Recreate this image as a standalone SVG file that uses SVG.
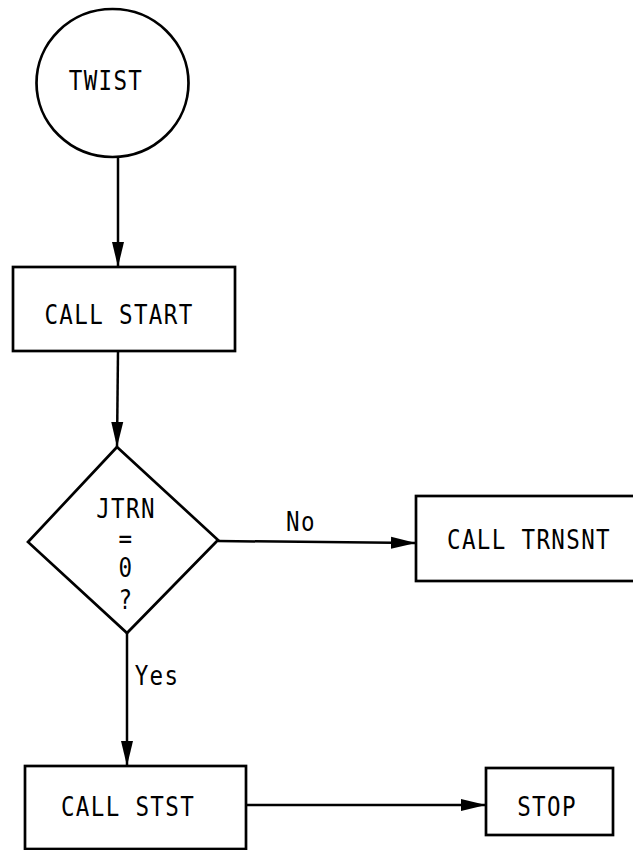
<svg xmlns="http://www.w3.org/2000/svg" width="633" height="850" viewBox="0 0 633 850">
  <style>
    .shape { fill: #ffffff; stroke: #000000; stroke-width: 2.7; }
    .edge { fill: none; stroke: #000000; stroke-width: 2.5; }
    .lbl { font-family: "DejaVu Sans Mono", "Liberation Mono", monospace; font-size: 26.5px; letter-spacing: 1.6px; fill: #000000; text-anchor: middle; }
  </style>
  <defs>
    <marker id="arrow" markerUnits="userSpaceOnUse" markerWidth="27" markerHeight="13" refX="25" refY="6.5" orient="auto">
      <path d="M0,0.5 L25,6.5 L0,12.5 z" fill="#000000"/>
    </marker>
  </defs>

  <rect width="633" height="850" fill="#ffffff"/>

  <!-- labels are drawn narrow: each text is placed by translate, then squeezed horizontally -->
  <g id="connectors">
    <line class="edge" x1="118" y1="157" x2="118" y2="267" marker-end="url(#arrow)"/>
    <line class="edge" x1="118" y1="351" x2="117" y2="447" marker-end="url(#arrow)"/>
    <line class="edge" x1="218" y1="541" x2="416" y2="543" marker-end="url(#arrow)"/>
    <line class="edge" x1="127" y1="633" x2="127" y2="766" marker-end="url(#arrow)"/>
    <line class="edge" x1="246" y1="805" x2="486" y2="805" marker-end="url(#arrow)"/>
    <text class="lbl" transform="translate(301,531) scale(0.85,1)">No</text>
    <text class="lbl" transform="translate(157,685) scale(0.85,1)">Yes</text>
  </g>

  <g id="twist">
    <ellipse class="shape" cx="112.5" cy="83" rx="76" ry="74"/>
    <text class="lbl" transform="translate(106,90) scale(0.85,1)">TWIST</text>
  </g>

  <g id="call-start">
    <rect class="shape" x="13" y="267" width="222" height="84"/>
    <text class="lbl" transform="translate(119,324) scale(0.85,1)">CALL START</text>
  </g>

  <g id="jtrn-test">
    <polygon class="shape" points="117,447 218,540 127,633 28,542"/>
    <text class="lbl" transform="translate(126,518) scale(0.85,1)">JTRN</text>
    <text class="lbl" transform="translate(126,548) scale(0.85,1)">=</text>
    <text class="lbl" transform="translate(126,577) scale(0.85,1)">0</text>
    <text class="lbl" transform="translate(126,609) scale(0.85,1)">?</text>
  </g>

  <g id="call-trnsnt">
    <rect class="shape" x="416" y="496" width="230" height="85"/>
    <text class="lbl" transform="translate(529,549) scale(0.85,1)">CALL TRNSNT</text>
  </g>

  <g id="call-stst">
    <rect class="shape" x="25" y="766" width="221" height="83"/>
    <text class="lbl" transform="translate(128,816) scale(0.85,1)">CALL STST</text>
  </g>

  <g id="stop">
    <rect class="shape" x="486" y="768" width="127" height="67"/>
    <text class="lbl" transform="translate(547,816) scale(0.85,1)">STOP</text>
  </g>
</svg>
